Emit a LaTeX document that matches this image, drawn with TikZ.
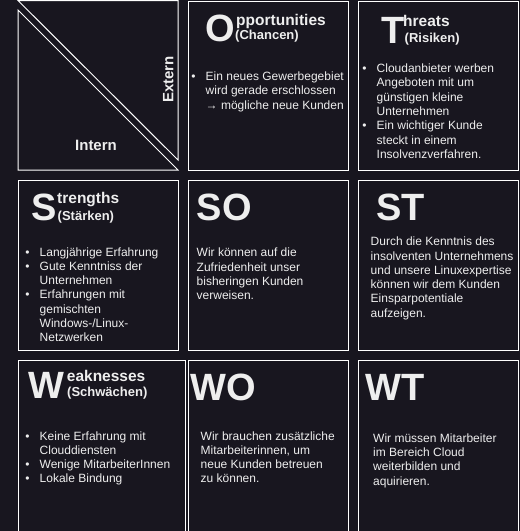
\documentclass[tikz,border=0pt]{standalone}
\usepackage{fontspec}
\setmainfont{Liberation Sans}
\definecolor{bg}{HTML}{18161F}
\definecolor{fg}{HTML}{EEEEEE}
\newcommand\swotbul{\makebox[14.3pt][l]{•}}
\newcommand\swotind{\hspace*{14.3pt}}
% lines of a cell text; the node's base is the first line's baseline
\newcommand\swotlines[1]{\begin{tabular}[t]{@{}l@{}}#1\end{tabular}}
\tikzset{
  cell/.style={draw=white, line width=1pt, anchor=north west, inner sep=0pt,
               minimum width=160pt, minimum height=170pt},
  big/.style={font=\fontsize{38}{38}\selectfont\bfseries, text=fg, anchor=base west, inner sep=0pt},
  head/.style={font=\fontsize{15.5}{17}\selectfont\bfseries, text=fg, anchor=base west, inner sep=0pt},
  sub/.style={font=\fontsize{13}{15}\selectfont\bfseries, text=fg, anchor=base west, inner sep=0pt},
  axis/.style={font=\fontsize{15}{17}\selectfont\bfseries, text=fg, inner sep=0pt},
  body/.style={font=\fontsize{12}{14.3}\selectfont, text=fg, anchor=base west, inner sep=0pt},
}
\begin{document}
\begin{tikzpicture}[x=1pt, y=-1pt]
  \useasboundingbox (0,0) rectangle (520,531);
  \fill[bg] (0,0) rectangle (520,531);

  % corner cell: two offset triangles
  \draw[white, line width=1pt] (18,0.5) -- (178,0.5) -- (178,160) -- cycle;
  \draw[white, line width=1pt] (18,10) -- (18,170) -- (178,170) -- cycle;
  \node[axis, anchor=base] (intern) at (96,150.7) {Intern};
  \node[axis, anchor=base west, rotate=90] (extern) at (173.3,103) {Extern};

  % cells
  \node[cell, minimum height=169.5pt] (opp) at (188,0.5) {};
  \node[cell, minimum height=169.5pt] (thr) at (358,0.5) {};
  \node[cell] (str) at (18,180) {};
  \node[cell] (so) at (188,180) {};
  \node[cell] (st) at (358,180) {};
  \node[cell, minimum width=167pt, minimum height=175pt] (weak) at (18,360) {};
  \node[cell, minimum height=175pt] (wo) at (188,360) {};
  \node[cell, minimum height=175pt] (wt) at (358,360) {};

  % Opportunities
  \node[big] (oppL) at (205,41.7) {O};
  \node[head] (oppH) at (236,25) {pportunities};
  \node[sub] (oppS) at (235,39.5) {(Chancen)};
  \node[body] (oppB) at (191.2,80.5) {\swotlines{\swotbul Ein neues Gewerbegebiet\\\swotind wird gerade erschlossen\\\swotind → mögliche neue Kunden}};

  % Threats
  \node[big] (thrL) at (381.7,43.3) {T};
  \node[head] (thrH) at (403,26.7) {hreats};
  \node[sub] (thrS) at (404.5,42.3) {(Risiken)};
  \node[body] (thrB) at (362.2,72.5) {\swotlines{\swotbul Cloudanbieter werben\\\swotind Angeboten mit um\\\swotind günstigen kleine\\\swotind Unternehmen\\\swotbul Ein wichtiger Kunde\\\swotind steckt in einem\\\swotind Insolvenzverfahren.}};

  % Strengths
  \node[big] (strL) at (31.7,220) {S};
  \node[head] (strH) at (57,203.3) {trengths};
  \node[sub] (strS) at (57.5,220) {(Stärken)};
  \node[body] (strB) at (25.2,256) {\swotlines{\swotbul Langjährige Erfahrung\\\swotbul Gute Kenntniss der\\\swotind Unternehmen\\\swotbul Erfahrungen mit\\\swotind gemischten\\\swotind Windows-/Linux-\\\swotind Netzwerken}};

  % SO
  \node[big] (soL) at (196.7,220) {SO};
  \node[body] (soB) at (196.5,256.7) {\swotlines{Wir können auf die\\Zufriedenheit unser\\bisheringen Kunden\\verweisen.}};

  % ST
  \node[big] (stL) at (376,220) {ST};
  \node[body] (stB) at (370.5,245.7) {\swotlines{Durch die Kenntnis des\\insolventen Unternehmens\\und unsere Linuxexpertise\\können wir dem Kunden\\Einsparpotentiale\\aufzeigen.}};

  % Weaknesses
  \node[big] (weakL) at (28.3,398.3) {W};
  \node[head] (weakH) at (66.7,381) {eaknesses};
  \node[sub] (weakS) at (67,396.7) {(Schwächen)};
  \node[body] (weakB) at (25.2,440) {\swotlines{\swotbul Keine Erfahrung mit\\\swotind Clouddiensten\\\swotbul Wenige MitarbeiterInnen\\\swotbul Lokale Bindung}};

  % WO
  \node[big] (woL) at (190,400) {WO};
  \node[body] (woB) at (200.5,440) {\swotlines{Wir brauchen zusätzliche\\Mitarbeiterinnen, um\\neue Kunden betreuen\\zu können.}};

  % WT
  \node[big] (wtL) at (365,400) {WT};
  \node[body] (wtB) at (373,442.3) {\swotlines{Wir müssen Mitarbeiter\\im Bereich Cloud\\weiterbilden und\\aquirieren.}};
\end{tikzpicture}
\end{document}
